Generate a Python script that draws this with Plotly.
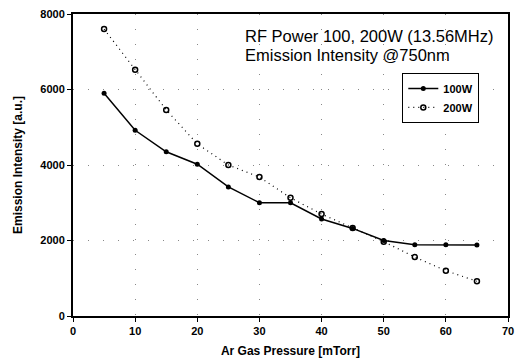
import plotly.graph_objects as go

pressure = [5, 10, 15, 20, 25, 30, 35, 40, 45, 50, 55, 60, 65]
w100 = [5900, 4920, 4350, 4020, 3420, 3000, 3000, 2570, 2320, 2000, 1890, 1890, 1880]
w200 = [7600, 6520, 5460, 4560, 4000, 3680, 3130, 2700, 2330, 1970, 1560, 1200, 920]
title_lines = ["RF Power 100, 200W (13.56MHz)", "Emission Intensity @750nm"]

fig = go.Figure()
fig.add_trace(go.Scatter(x=pressure, y=w100, name="100W", mode="lines+markers",
                         line=dict(color="black", width=1.5),
                         marker=dict(symbol="circle", size=5, color="black")))
fig.add_trace(go.Scatter(x=pressure, y=w200, name="200W", mode="lines+markers",
                         line=dict(color="black", width=1.2, dash="1px,4px"),
                         marker=dict(symbol="circle-open", size=5, color="black", line=dict(width=1.5))))

for txt, yy in zip(title_lines, [0.928, 0.863]):
    fig.add_annotation(x=0.39, y=yy, xref="paper", yref="paper", xanchor="left", yanchor="middle",
                       text=txt, showarrow=False, align="left",
                       font=dict(family="Liberation Sans, Arial", size=16.5, color="black"))

axis_common = dict(showline=True, linecolor="black", linewidth=2, mirror=True,
                   ticks="outside", ticklen=4, tickcolor="black", automargin=False,
                   tickfont=dict(family="Liberation Sans, Arial", size=11, color="black", weight="bold"),
                   showgrid=True, gridcolor="#888", gridwidth=1, griddash="1px,14px", zeroline=False)

fig.update_layout(
    width=521, height=361,
    margin=dict(l=73, r=13, t=14, b=45, autoexpand=False),
    plot_bgcolor="white", paper_bgcolor="white",
    font=dict(family="Liberation Sans, Arial", color="black"),
    xaxis=dict(range=[0, 70], dtick=10, **axis_common,
               title=dict(text="<b>Ar Gas Pressure [mTorr]</b>", font=dict(size=12), standoff=10)),
    yaxis=dict(range=[0, 8000], dtick=2000, **axis_common,
               title=dict(text="<b>Emission Intensity [a.u.]</b>", font=dict(size=12), standoff=15)),
    legend=dict(x=0.757, y=0.805, xanchor="left", yanchor="top", bgcolor="white",
                bordercolor="black", borderwidth=1,
                font=dict(family="Liberation Sans, Arial", size=11, weight="bold"),
                itemwidth=30, tracegroupgap=0),
    showlegend=True,
)
fig.write_html("out.html", config={"displayModeBar": False},
               post_script="document.body.style.margin='0';document.body.style.overflow='hidden';")
